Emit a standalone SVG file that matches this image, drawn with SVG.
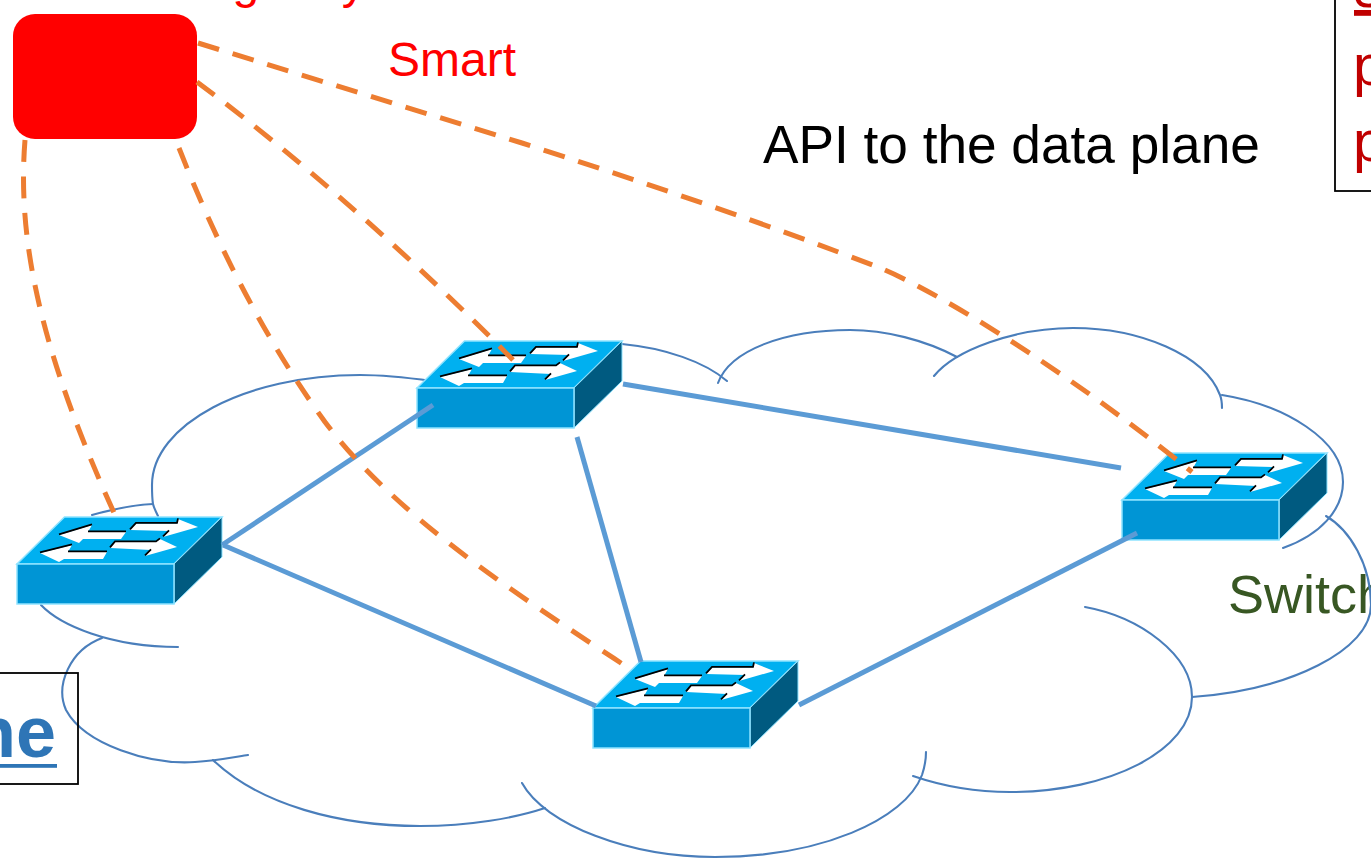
<svg xmlns="http://www.w3.org/2000/svg" xmlns:xlink="http://www.w3.org/1999/xlink" width="1371" height="859" viewBox="0 0 1371 859">
<style>
text{font-family:"Liberation Sans",Arial,sans-serif}
.cloud{fill:none;stroke:#4A7EBB;stroke-width:2.100;stroke-linecap:round}
.link{fill:none;stroke:#5B9BD5;stroke-width:5}
.ctl{fill:none;stroke:#ED7D31;stroke-width:5;stroke-dasharray:22 14.500}
.box{fill:none;stroke:#000;stroke-width:1.800}
.ar{fill:#fff}
.sh{fill:none;stroke:#000;stroke-width:1.800;transform:translateY(-0.6px)}
</style>
<defs>
<g id="sw">
<path d="M0 0L47.500 -47L205 -47L157 0Z" fill="#00B0F0" stroke="#8FE3FF" stroke-width="1.500"/>
<path d="M157 0L205 -47L205 -7L157 40Z" fill="#005A80" stroke="#8FE3FF" stroke-width="1"/>
<rect x="0" y="0" width="157" height="40" fill="#0095D5" stroke="#8FE3FF" stroke-width="1.500"/>
<path class="ar" d="M42 -29L75 -39L71 -32L109 -32L104 -25L66 -25L62 -21Z"/>
<path class="sh" d="M42 -29L75 -39M71 -32L109 -32"/>
<path class="ar" d="M23 -11L55 -19L51 -12L90 -12L86 -5L47 -5L42 -2Z"/>
<path class="sh" d="M23 -11L55 -19M51 -12L90 -12"/>
<path class="ar" d="M113 -34L119 -40.500L160 -40.500L161 -45L181 -37L146 -27L152 -33Z"/>
<path class="sh" d="M113 -34L119 -40.500L160 -40.500L161 -45M146 -27L152 -33"/>
<path class="ar" d="M93 -16L98 -22L139 -22L143 -25L160 -17L128 -8L134 -14Z"/>
<path class="sh" d="M93 -16L98 -22L139 -22L143 -25M128 -8L134 -14"/>
</g>
</defs>
<g id="labels">
<text x="179" y="-2" font-size="48" fill="#FF0000">Logically</text>
<text x="388" y="76" font-size="48" fill="#FF0000">Smart</text>
<text x="763" y="163" font-size="53.200" fill="#000">API to the data plane</text>
<text x="1228" y="613" font-size="54" fill="#385723">Switch</text>
</g>
<g id="cloud">
<path class="cloud" d="M41 605C60 625 110 647 178 647"/>
<path class="cloud" d="M102 638C70 650 55 685 66 710C85 745 150 765 195 762C215 761 235 757 248 755"/>
<path class="cloud" d="M213 760C260 805 340 826 420 826C470 826 515 818 545 808"/>
<path class="cloud" d="M522 783C545 825 630 857 715 857C820 857 905 820 922 775C925 766 926 760 926 752"/>
<path class="cloud" d="M913 776C945 787 980 792 1010 792C1110 792 1192 750 1192 697C1192 655 1140 617 1085 607"/>
<path class="cloud" d="M1192 697C1290 690 1371 650 1371 605C1371 565 1350 530 1326 516"/>
<path class="cloud" d="M1283 548C1320 535 1343 510 1343 482C1343 440 1285 405 1222 395"/>
<path class="cloud" d="M1222 408C1222 403 1222 400 1220 395C1205 355 1140 328 1073 328C1015 328 955 350 934 376"/>
<path class="cloud" d="M957 357C925 340 885 330 850 330C785 330 730 350 718 383"/>
<path class="cloud" d="M727 381C705 362 665 348 622 344"/>
<path class="cloud" d="M432 381C410 378 385 375 360 375C245 375 152 425 152 485C152 492 152 498 153 504C154 508 156 512 158 516"/>
<path class="cloud" d="M153 504C130 505 110 510 92 515"/>
</g>
<g id="plane-box">
<rect class="box" x="-20" y="673" width="98" height="111"/>
<text x="56" y="757" font-size="72" font-weight="700" fill="#2E75B6" text-anchor="end">ne</text>
<rect x="0" y="764" width="57" height="3.800" fill="#2E75B6"/>
</g>
<g id="smart-box">
<rect class="box" x="1335" y="-20" width="60" height="211"/>
<text x="1354" y="7" font-size="58" fill="#C00000" text-decoration="underline">s</text>
<text x="1353" y="85" font-size="58" fill="#C00000">p</text>
<text x="1353" y="161" font-size="58" fill="#C00000">p</text>
</g>
<g id="controller"><rect x="13" y="14" width="184" height="125" rx="22" ry="22" fill="#FF0000"/></g>
<g id="switch-left"><use href="#sw" xlink:href="#sw" x="17" y="564"/></g>
<g id="switch-top"><use href="#sw" xlink:href="#sw" x="417" y="388"/></g>
<g id="switch-bottom"><use href="#sw" xlink:href="#sw" x="593" y="708"/></g>
<g id="switch-right"><use href="#sw" xlink:href="#sw" x="1122" y="500"/></g>
<g id="connectors">
<path class="link" d="M222 545L433 405"/>
<path class="link" d="M623 384L1121 468"/>
<path class="link" d="M577 437L641 662"/>
<path class="link" d="M223 545L596 706"/>
<path class="link" d="M799 705L1137 533"/>
<path class="ctl" style="stroke-dasharray:22 14.200" d="M198 43L522 143C640 181 770 225 880 268C930 288 1060 365 1192 472"/>
<path class="ctl" d="M197 82C300 158 420 265 513 360"/>
<path class="ctl" style="stroke-dasharray:22 15.400" d="M179 148C215 240 262 335 325 422C395 515 510 590 624 665"/>
<path class="ctl" d="M25 140C17 240 40 350 115 515"/>
</g>
</svg>
